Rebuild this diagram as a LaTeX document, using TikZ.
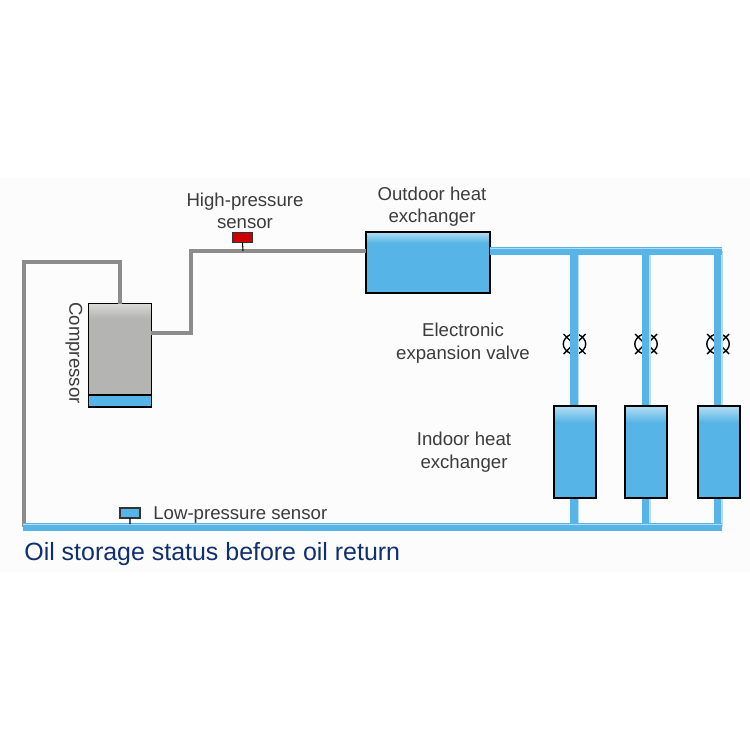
\documentclass[tikz,border=0pt]{standalone}
\usepackage{fontspec}
\setmainfont{Liberation Sans}
\definecolor{coolblue}{HTML}{56B5E6}
\definecolor{coolpale}{HTML}{B4DDF3}
\definecolor{pipegray}{HTML}{8C8C8C}
\definecolor{bodygray}{HTML}{B4B4B2}
\definecolor{bodypale}{HTML}{DADAD8}
\definecolor{labelgray}{HTML}{3C3C3C}
\definecolor{titleblue}{HTML}{0F2F70}
\pgfdeclareverticalshading{coolfade}{100bp}{color(0bp)=(coolblue); color(66bp)=(coolblue); color(75bp)=(coolpale); color(100bp)=(coolpale)}
\pgfdeclareverticalshading{bodyfade}{100bp}{color(0bp)=(bodygray); color(68bp)=(bodygray); color(75bp)=(bodypale); color(100bp)=(bodypale)}
\tikzset{
  label text/.style={text=labelgray, font=\fontsize{10.6}{12.8}\selectfont, align=center, inner sep=0pt},
  hot pipe/.style={pipegray, line width=2.3pt, line join=miter},
  cold pipe/.style={coolblue, line width=4pt},
  drop pipe/.style={coolblue, line width=4pt},
  drop edge/.style={coolpale, line width=1.6pt},
  pipe glint/.style={coolpale, line width=0.4pt},
  box/.style={draw=black, line width=0.7pt, inner sep=0pt, outer sep=0pt, anchor=north west},
  exchanger/.style={box, shading=coolfade},
  sensor/.style={draw=black!80, line width=0.6pt, inner sep=0pt, outer sep=0pt, anchor=north west, minimum width=0.4cm, minimum height=0.2cm},
  valve line/.style={black, line width=0.8pt},
}
\newcommand{\valvemark}[1]{%
  \begin{scope}[shift={(#1)}]
  \draw[valve line] (-11,-10) -- (-2,-1);
  \draw[valve line] (-11,10) -- (-2,1);
  \draw[valve line] (-3,-10) .. controls (-14,-5) and (-14,5) .. (-3,10);
  \draw[valve line] (11,-10) -- (2,-1);
  \draw[valve line] (11,10) -- (2,1);
  \draw[valve line] (3,-10) .. controls (14,-5) and (14,5) .. (3,10);
  \end{scope}
}
\begin{document}
\begin{tikzpicture}[x=0.02cm, y=-0.02cm]
\useasboundingbox (0,0) rectangle (750,750);
\fill[white] (0,0) rectangle (750,750);
\fill[black!1] (0,178) rectangle (750,572);
% junctions
\coordinate (topleft) at (24,262);
\coordinate (botleft) at (24,527);
\coordinate (botstart) at (22.5,527);
\coordinate (botright) at (722,527);
\coordinate (topright) at (722,251);
\coordinate (riser a) at (191,333);
\coordinate (riser b) at (191,251);
\coordinate (drop a) at (574,251);
\coordinate (drop b) at (645.5,251);
\coordinate (drop c) at (717.5,251);
\coordinate (foot a) at (574,527);
\coordinate (foot b) at (645.5,527);
\coordinate (foot c) at (717.5,527);
\coordinate (suction) at (120,262);
% valves
\valvemark{574.5,344}
\valvemark{646,344}
\valvemark{718,344}
% branch pipes
\draw[drop edge] ([xshift=0.08cm]drop a) -- ([xshift=0.08cm]foot a);
\draw[drop edge] ([xshift=0.08cm]drop b) -- ([xshift=0.08cm]foot b);
\draw[drop edge] ([xshift=0.08cm]drop c) -- ([xshift=0.08cm]foot c);
\draw[drop pipe] (drop a) -- (foot a);
\draw[drop pipe] (drop b) -- (foot b);
\draw[drop pipe] (drop c) -- (foot c);
% boxes
\node[box, shading=bodyfade, minimum width=1.26cm, minimum height=2.07cm] (compressor) at (88.5,303.5) {};
\node[box, fill=coolblue, minimum width=1.26cm, minimum height=0.24cm] (oil) at (88.5,395) {};
\node[exchanger, minimum width=2.48cm, minimum height=1.22cm] (outdoor) at (366,232) {};
\node[exchanger, minimum width=0.84cm, minimum height=1.84cm] (indoor a) at (554,406) {};
\node[exchanger, minimum width=0.84cm, minimum height=1.84cm] (indoor b) at (625,406) {};
\node[exchanger, minimum width=0.84cm, minimum height=1.84cm] (indoor c) at (698,406) {};
% sensors
\node[sensor, fill=red!80!black] (high sensor) at (232.5,232.5) {};
\node[sensor, fill=coolblue] (low sensor) at (120,508) {};
\coordinate (high tap) at (243,251);
\coordinate (low tap) at (130,524);
% main pipes
\draw[hot pipe] (botleft) -- (topleft) -- (suction) -- (suction |- compressor.north);
\draw[hot pipe] (compressor.east |- riser a) -- (riser a) -- (riser b) -- (outdoor.west |- riser b);
\draw[cold pipe] (outdoor.east |- topright) -- (topright);
\draw[cold pipe] (botstart) -- (botright);
\draw[pipe glint] ([yshift=0.05cm]outdoor.east |- topright) -- ([yshift=0.05cm]topright);
\draw[pipe glint] ([yshift=0.05cm]botstart) -- ([yshift=0.05cm]botright);
\draw[black, line width=0.6pt] (high sensor.south) -- (high tap);
\draw[black, line width=0.6pt] (low sensor.south) -- (low tap);
% labels
\node[label text] (high label) at (245,211) {High-pressure\\sensor};
\node[label text] (outdoor label) at (432,206.5) {Outdoor heat\\exchanger};
\node[label text] (valve label) at (463,343) {Electronic\\expansion valve};
\node[label text] (indoor label) at (464,452) {Indoor heat\\exchanger};
\node[label text, anchor=west] (low label) at (153,515) {Low-pressure sensor};
\node[label text, rotate=-90] (compressor label) at (74,353) {Compressor};
\node[anchor=west, inner sep=0pt, text=titleblue, font=\fontsize{14.2}{17}\selectfont] (title) at (24,554) {Oil storage status before oil return};
\end{tikzpicture}
\end{document}
